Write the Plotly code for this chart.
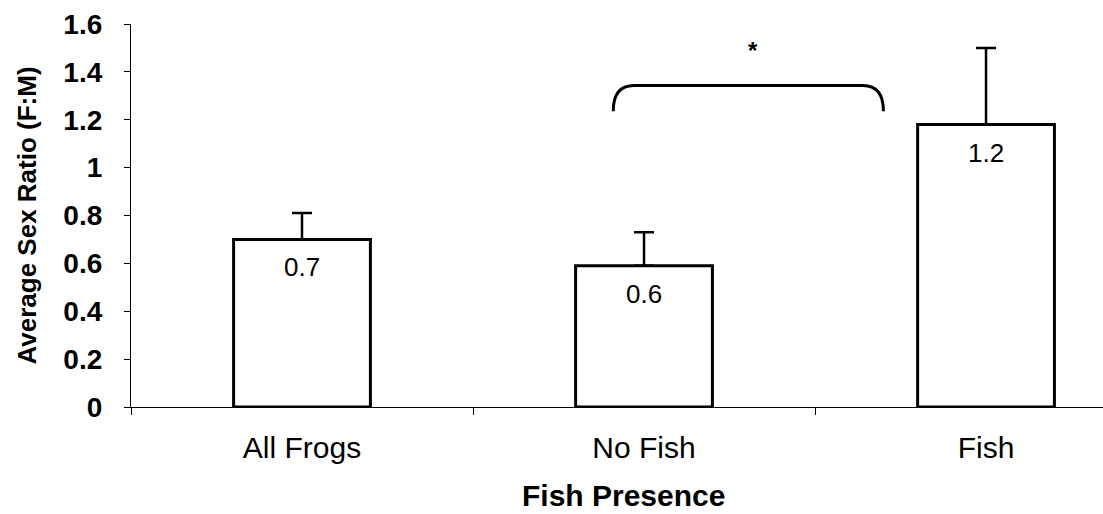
import plotly.graph_objects as go

categories = ["All Frogs", "No Fish", "Fish"]
means = [0.70, 0.59, 1.18]
errors = [0.11, 0.14, 0.32]
bar_labels = ["0.7", "0.6", "1.2"]
y_ticks = [0, 0.2, 0.4, 0.6, 0.8, 1.0, 1.2, 1.4, 1.6]
y_tick_labels = ["0", "0.2", "0.4", "0.6", "0.8", "1", "1.2", "1.4", "1.6"]
x_title = "Fish Presence"
y_title = "Average Sex Ratio (F:M)"

# significance bracket (between No Fish and Fish), in axis units
bracket_x = [0.91, 1.70]
bracket_y = [1.235, 1.343]
bracket_corner = 0.06  # corner width (x units)
star_pos = [1.32, 1.49]
x_title_pos = 0.94

xpos = list(range(len(categories)))
FONT = "Liberation Sans, Arial, sans-serif"

fig = go.Figure()
fig.add_trace(go.Bar(
    x=xpos, y=means, width=0.4,
    marker=dict(color="white", line=dict(color="black", width=3)),
    error_y=dict(type="data", array=errors, arrayminus=[0] * len(errors),
                 symmetric=False, color="black", thickness=2.5, width=10),
    showlegend=False, hoverinfo="skip",
))

for xi, m, lab in zip(xpos, means, bar_labels):
    fig.add_annotation(x=xi, y=m, text=lab, showarrow=False, yanchor="top",
                       yshift=-11, font=dict(family=FONT, size=26, color="black"))

x0, x1 = bracket_x
yb, yt = bracket_y
cw = bracket_corner
path = (f"M {x0},{yb} Q {x0},{yt} {x0+cw},{yt} L {x1-cw},{yt} "
        f"Q {x1},{yt} {x1},{yb}")
fig.add_shape(type="path", path=path, xref="x", yref="y",
              line=dict(color="black", width=3))
fig.add_annotation(x=star_pos[0], y=star_pos[1], text="<b>*</b>", showarrow=False,
                   font=dict(family=FONT, size=24, color="black"))

fig.add_annotation(x=x_title_pos, xref="x", y=-0.23, yref="paper", yanchor="middle",
                   text=x_title, showarrow=False,
                   font=dict(family=FONT, size=30, color="black", weight="bold"))

fig.update_layout(
    width=1103, height=514,
    margin=dict(l=131, r=0, t=24, b=107),
    paper_bgcolor="white", plot_bgcolor="white",
    font=dict(family=FONT, color="black"),
    xaxis=dict(
        range=[-0.5, 2.342], tickmode="array", tickvals=xpos, ticktext=categories,
        ticks="", showline=True, linecolor="black", linewidth=1.2, showgrid=False,
        zeroline=False, tickfont=dict(family=FONT, size=30, color="black"),
        ticklabelstandoff=14,
        minor=dict(tick0=0.5, dtick=1, ticks="outside", ticklen=7, tickcolor="black",
                   tickwidth=1, showgrid=False),
    ),
    yaxis=dict(
        range=[0, 1.6], tickmode="array", tickvals=y_ticks, ticktext=y_tick_labels,
        ticks="outside", ticklen=6, tickcolor="black", tickwidth=1,
        showline=True, linecolor="black", linewidth=1.2, showgrid=False, zeroline=False,
        tickfont=dict(family=FONT, size=28, color="black", weight="bold"),
        ticklabelstandoff=16,
        title=dict(text=y_title,
                   font=dict(family=FONT, size=26, color="black", weight="bold"),
                   standoff=19),
    ),
)

fig.write_html("out.html")
